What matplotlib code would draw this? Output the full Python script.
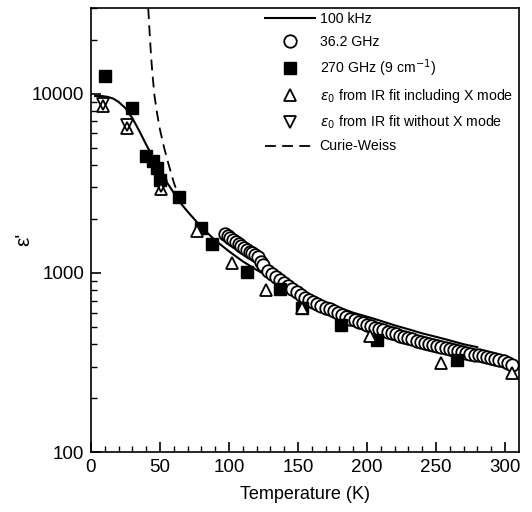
import matplotlib.pyplot as plt
import matplotlib.ticker as mticker
import numpy as np

plt.rcParams['font.family'] = ['Liberation Sans', 'DejaVu Sans']

# 100 kHz
t_khz = np.array([3, 8, 12, 16, 20, 25, 30, 35, 40, 45, 50, 55, 60, 65, 70, 80, 90, 100, 110,
                  120, 130, 140, 150, 160, 170, 180, 190, 200, 210, 220, 230, 240, 250, 260,
                  270, 280])
e_khz = np.array([9700, 9700, 9600, 9400, 9000, 8300, 7300, 6200, 5200, 4400, 3700, 3200, 2800,
                  2450, 2200, 1800, 1520, 1320, 1160, 1040, 940, 860, 790, 730, 680, 640, 600,
                  570, 540, 510, 485, 460, 440, 420, 400, 385])

# 36.2 GHz
t_ghz = np.array([97, 99, 101, 103, 105, 107, 109, 111, 113, 115, 117, 119, 121, 123, 125, 128,
                  131, 134, 137, 140, 143, 146, 149, 152, 155, 158, 161, 164, 167, 170, 173, 176,
                  179, 182, 185, 188, 191, 194, 197, 200, 203, 206, 209, 212, 215, 218, 221, 224,
                  227, 230, 233, 236, 239, 242, 245, 248, 251, 254, 257, 260, 263, 266, 269, 272,
                  275, 278, 281, 284, 287, 290, 293, 296, 299, 302, 305])
e_ghz = np.array([1650, 1610, 1570, 1530, 1490, 1450, 1420, 1380, 1350, 1310, 1290, 1260, 1230,
                  1150, 1100, 1030, 990, 950, 910, 875, 845, 810, 780, 750, 725, 705, 690, 670,
                  655, 640, 625, 610, 595, 580, 565, 555, 545, 535, 525, 515, 505, 495, 485, 478,
                  470, 462, 455, 447, 440, 432, 425, 418, 412, 406, 400, 395, 390, 385, 380, 375,
                  370, 366, 362, 358, 354, 350, 346, 342, 338, 334, 330, 326, 322, 316, 308])

# 270 GHz (9 cm^-1)
t_270 = np.array([10, 30, 40, 45, 48, 50, 64, 80, 88, 113, 137, 153, 181, 207, 265])
e_270 = np.array([12500, 8300, 4500, 4200, 3850, 3300, 2650, 1780, 1450, 1010, 810, 640, 510,
                  420, 325])

# eps0 from IR fit including X mode
t_inc = np.array([9, 26, 51, 77, 102, 127, 153, 202, 254, 305])
e_inc = np.array([8500, 6400, 2950, 1720, 1140, 800, 635, 445, 315, 275])

# eps0 from IR fit without X mode
t_exc = np.array([9, 26, 51])
e_exc = np.array([8800, 6700, 3050])

# Curie-Weiss
t_cw = np.array([41.5, 42.5, 43.5, 44.5, 46, 48, 50, 53, 56, 60, 65])
e_cw = np.array([30000, 22000, 16500, 13000, 9800, 7700, 6300, 5000, 4100, 3200, 2500])

fig = plt.figure(figsize=(5.32, 5.12), dpi=100)
ax = fig.add_axes([0.171, 0.117, 0.804, 0.867])

ax.plot(t_khz, e_khz, '-', color='black', lw=1.5, label='100 kHz')
ax.plot(t_ghz, e_ghz, 'o', mfc='white', mec='black', mew=1.3, ms=9, label='36.2 GHz')
ax.plot(t_270, e_270, 's', color='black', ms=8, label='270 GHz (9 cm$^{-1}$)')
ax.plot(t_inc, e_inc, '^', mfc='white', mec='black', mew=1.3, ms=8,
        label=r'$\epsilon_0$ from IR fit including X mode')
ax.plot(t_exc, e_exc, 'v', mfc='none', mec='black', mew=1.3, ms=8,
        label=r'$\epsilon_0$ from IR fit without X mode')
ax.plot(t_cw, e_cw, '--', color='black', lw=1.3, dashes=(6, 3.5), label='Curie-Weiss')

ax.set_yscale('log')
ax.set_xlim(0, 310)
ax.set_ylim(100, 30000)
ax.set_xticks([0, 50, 100, 150, 200, 250, 300])
ax.set_xticks(np.arange(10, 310, 10), minor=True)
ax.set_yticks([100, 1000, 10000])
ax.set_yticklabels(['100', '1000', '10000'])
ax.yaxis.set_minor_locator(mticker.LogLocator(base=10, subs=np.arange(2, 10)))
ax.yaxis.set_minor_formatter(mticker.NullFormatter())
ax.tick_params(which='both', direction='in', top=False, right=False, labelsize=13.5)
ax.tick_params(which='major', length=7, width=1.2, pad=5)
ax.tick_params(which='minor', length=4, width=1.0)
for s in ax.spines.values():
    s.set_linewidth(1.2)

ax.set_xlabel('Temperature (K)', fontsize=13, labelpad=7)
ax.set_ylabel("ε'", fontsize=15)
ax.yaxis.set_label_coords(-0.135, 0.48)

ax.legend(loc='upper left', bbox_to_anchor=(265 / 532, 1 - 12 / 512),
          bbox_transform=fig.transFigure, frameon=False, fontsize=10.2,
          handlelength=3.5, handletextpad=0.35, labelspacing=0.6,
          borderaxespad=0, borderpad=0)

fig.savefig('out.png', dpi=100)
